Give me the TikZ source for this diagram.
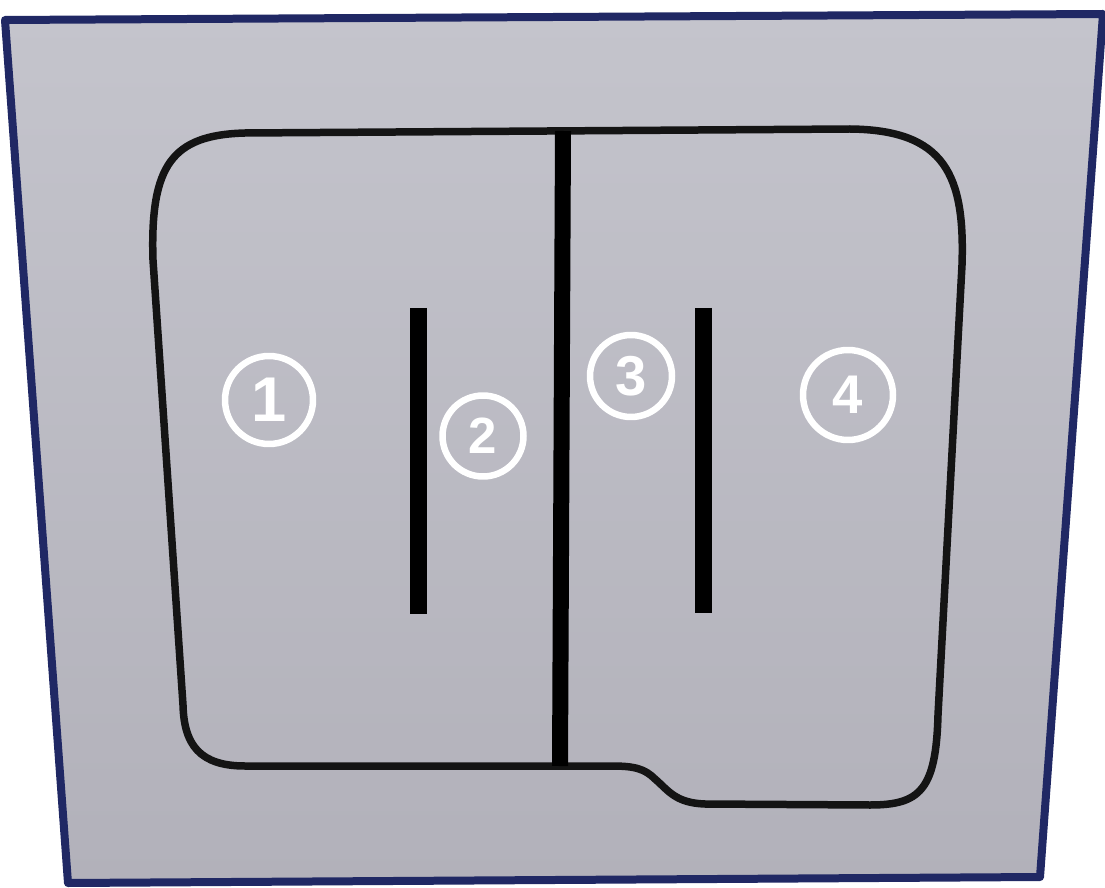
\documentclass[tikz,border=0pt]{standalone}
\usepackage{fontspec}
\setmainfont{Liberation Sans}
\usetikzlibrary{positioning}
\definecolor{boardtop}{RGB}{196,196,204}
\definecolor{boardlow}{RGB}{178,177,186}
\definecolor{rimblue}{RGB}{32,40,100}

\begin{document}
\begin{tikzpicture}[x=0.02cm,y=-0.02cm,
    track/.style={draw=black!92, line width=0.15cm, line join=round},
    bar/.style={draw=black, line width=0.34cm},
    zone/.style={circle, draw=white, line width=0.13cm, text=white, inner sep=0pt},
  ]
  \useasboundingbox (0,0) rectangle (1105,888);
  \fill[white] (0,0) rectangle (1105,888);

  % board
  \shade[top color=boardtop, bottom color=boardlow]
    (5,20) -- (1103,14) -- (1040,877) -- (68,883) -- cycle;
  \draw[rimblue, line width=0.16cm, line join=round]
    (5,20) -- (1103,14) -- (1040,877) -- (68,883) -- cycle;

  % track
  \draw[track] (153,260) .. controls (150,165) and (172,135) .. (245,133)
    -- (850,129) .. controls (945,130) and (965,175) .. (962,265)
    -- (938,715) .. controls (936,790) and (920,805) .. (870,805)
    -- (705,804) .. controls (675,803) and (668,790) .. (655,779)
    .. controls (645,769) and (635,766) .. (612,766)
    -- (245,766) .. controls (200,766) and (184,745) .. (183,705)
    -- cycle;

  % walls
  \draw[bar, line width=0.32cm] (563,131) -- (560,766);
  \draw[bar] (418,308) -- (418,614);
  \draw[bar] (703,308) -- (703,613);

  % zones
  \node[zone, minimum size=1.76cm, font=\bfseries\fontsize{36}{36}\selectfont] (z1) at (269,400) {1};
  \node[zone, minimum size=1.62cm, font=\bfseries\fontsize{29}{29}\selectfont] (z2) at (483,436) {2};
  \node[zone, minimum size=1.64cm, font=\bfseries\fontsize{32}{32}\selectfont] (z3) at (631,376) {3};
  \node[zone, minimum size=1.80cm, font=\bfseries\fontsize{31}{31}\selectfont] (z4) at (848,395) {4};
\end{tikzpicture}
\end{document}
